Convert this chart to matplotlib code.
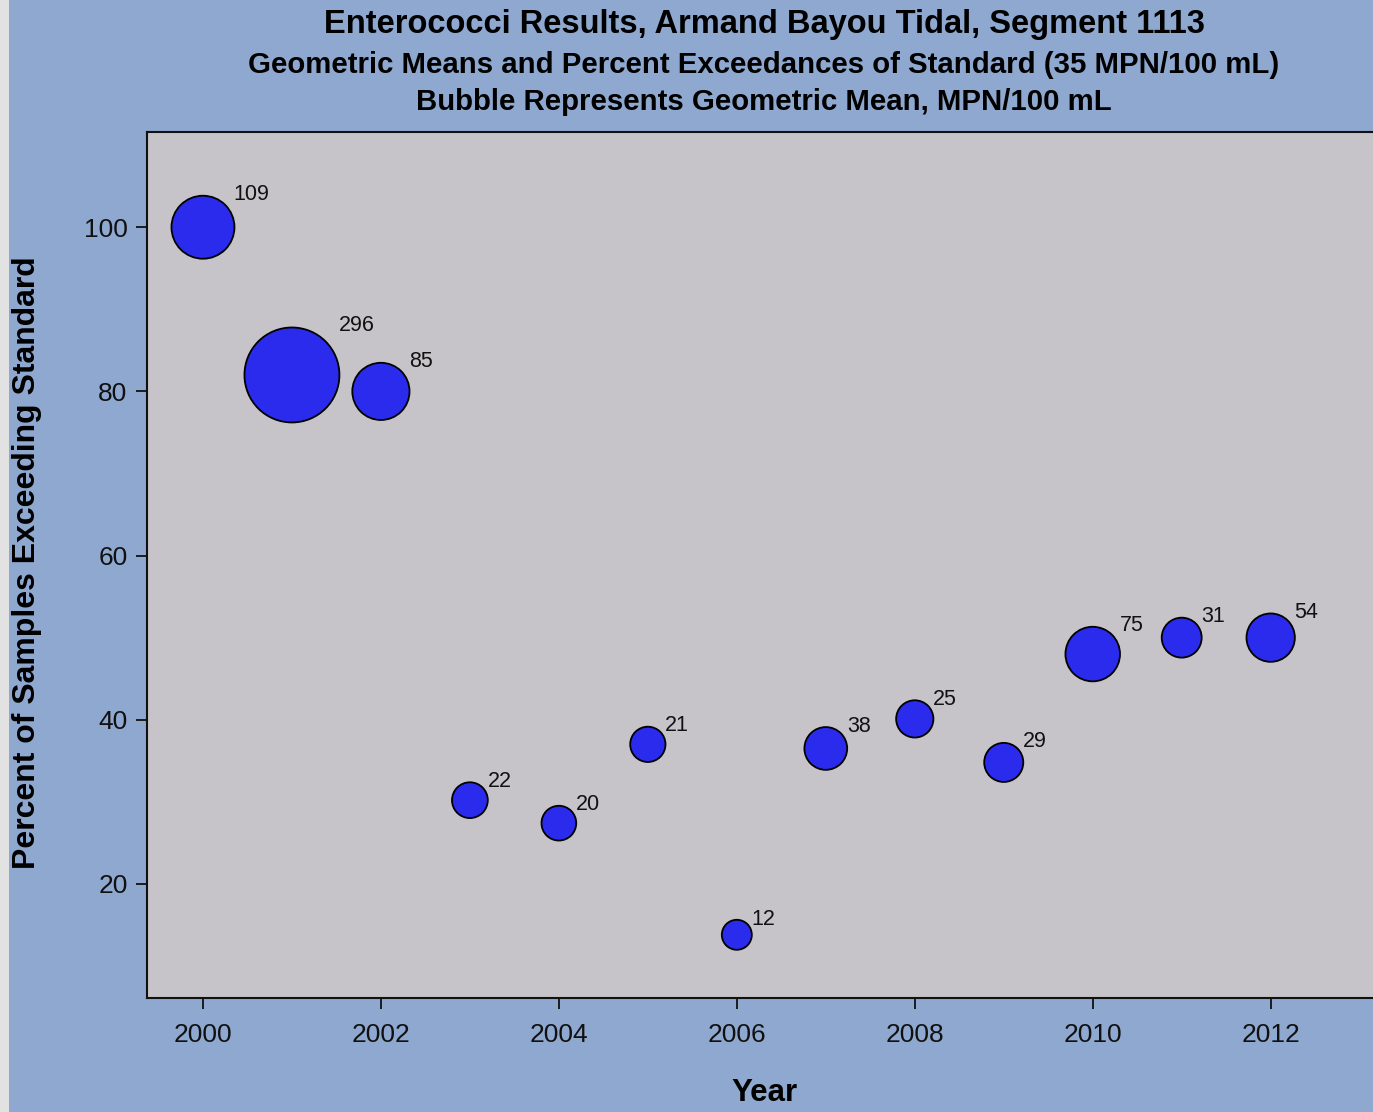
import numpy as np
import matplotlib.pyplot as plt
from matplotlib.patches import Rectangle

years = [2000, 2001, 2002, 2003, 2004, 2005, 2006, 2007, 2008, 2009, 2010, 2011, 2012]
pct_exceed = [100, 82, 80, 30.2, 27.4, 37.0, 13.8, 36.5, 40.1, 34.8, 48.0, 50.0, 50.0]
geo_mean = [109, 296, 85, 22, 20, 21, 12, 38, 25, 29, 75, 31, 54]

W, H = 1373, 1112
fig = plt.figure(figsize=(W / 100, H / 100), dpi=100)
fig.patch.set_facecolor("#8ea8d0")
# light strip on the left edge
fig.add_artist(Rectangle((0, 0), 9 / W, 1, transform=fig.transFigure,
                         facecolor="#e2e2e2", edgecolor="none", zorder=0))

font = "Liberation Sans"

# axes: x 147..1381 px, y 132..998 px
ax = fig.add_axes([147 / W, 1 - 998 / H, (1381 - 147) / W, (998 - 132) / H])
ax.set_facecolor("#c6c4c8")
ax.set_xlim(1999.371, 2013.24)
ax.set_ylim(6.1, 111.6)
for s in ax.spines.values():
    s.set_linewidth(1.5)
    s.set_color("#111111")
ax.spines["right"].set_visible(False)

# bubble diameter in pixels grows with sqrt of geometric mean
diam_px = 13.6 + 4.73 * np.sqrt(np.array(geo_mean))
sizes = (diam_px * 0.72) ** 2
ax.scatter(years, pct_exceed, s=sizes, c="#2b2bee", edgecolors="black",
           linewidths=1.3, zorder=3)

for x, y, v, d in zip(years, pct_exceed, geo_mean, diam_px):
    r_pt = d / 2 * 0.72
    ax.annotate(str(v), (x, y), xytext=(r_pt * 0.98, r_pt * 1.05),
                textcoords="offset points", ha="left", va="center",
                fontsize=15.5, family=font, color="#111111")

ax.set_xticks(range(2000, 2013, 2))
ax.set_yticks([20, 40, 60, 80, 100])
ax.tick_params(length=8, width=1.3, colors="#111111", labelsize=19, pad=6)
for lab in ax.get_xticklabels() + ax.get_yticklabels():
    lab.set_family(font)
ax.tick_params(axis="x", pad=10)

cx = 764 / W
fig.text(cx, 1 - 25 / H, "Enterococci Results, Armand Bayou Tidal, Segment 1113",
         ha="center", va="center", fontsize=23.5, fontweight="bold", family=font)
fig.text(cx, 1 - 65 / H, "Geometric Means and Percent Exceedances of Standard (35 MPN/100 mL)",
         ha="center", va="center", fontsize=21.2, fontweight="bold", family=font)
fig.text(cx, 1 - 102 / H, "Bubble Represents Geometric Mean, MPN/100 mL",
         ha="center", va="center", fontsize=21.2, fontweight="bold", family=font)
fig.text(cx, 1 - 1093 / H, "Year", ha="center", va="center",
         fontsize=22.5, fontweight="bold", family=font)
fig.text(27 / W, 1 - 563 / H, "Percent of Samples Exceeding Standard",
         ha="center", va="center", rotation=90, fontsize=23,
         fontweight="bold", family=font)

fig.savefig("out.png", dpi=100, facecolor=fig.get_facecolor())
